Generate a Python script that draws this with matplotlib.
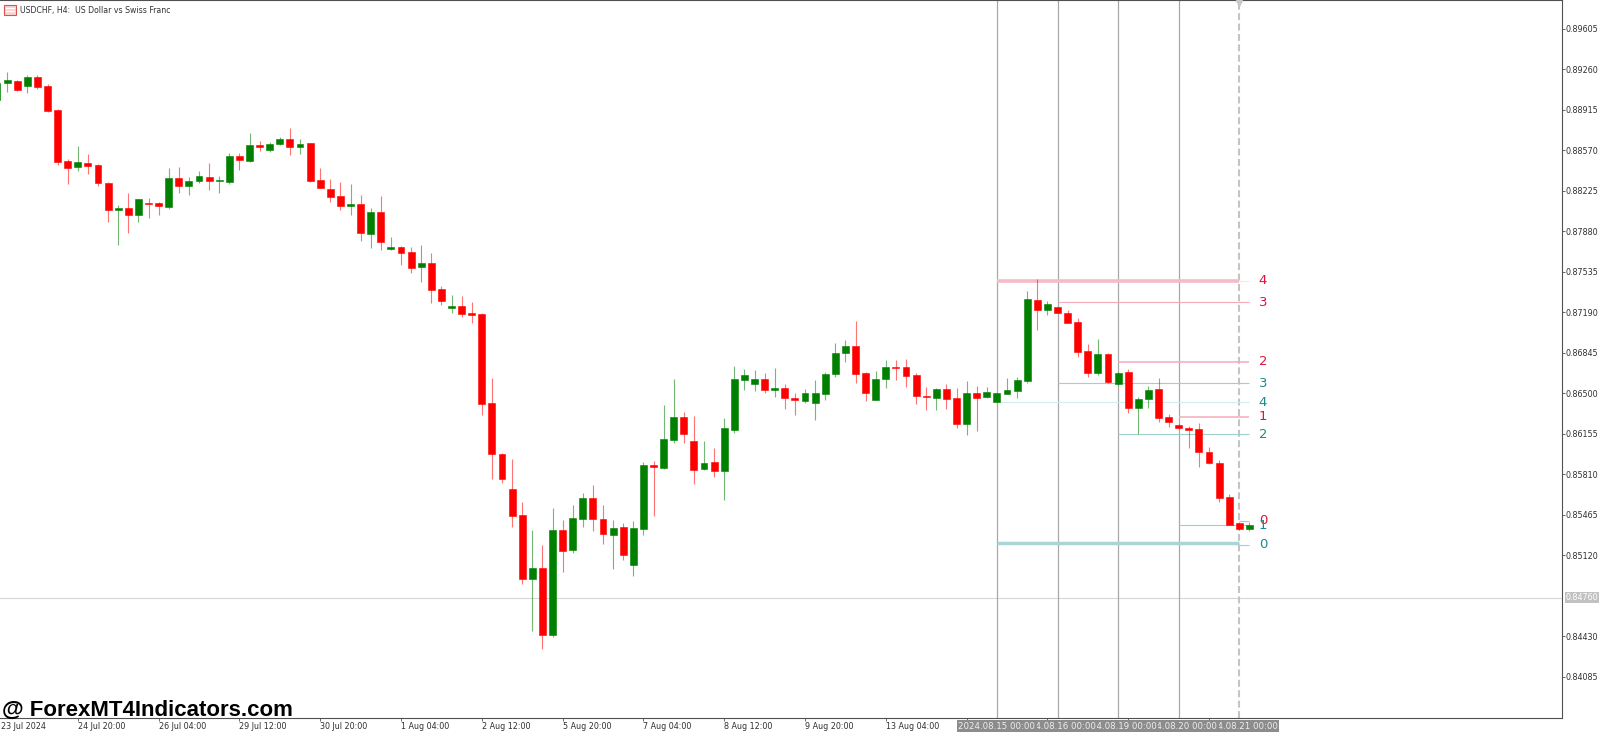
import matplotlib
matplotlib.use("Agg")
import matplotlib.pyplot as plt
import matplotlib.transforms as mtransforms
from matplotlib.patches import Rectangle
import numpy as np

plt.rcParams['font.family'] = 'DejaVu Sans'
plt.rcParams['lines.scale_dashes'] = False

# ===== Data (USDCHF H4) =====
opens = [0.89000, 0.89145, 0.89162, 0.89122, 0.89193, 0.89119, 0.88915, 0.88478, 0.88426, 0.88463,
         0.88449, 0.88296, 0.88066, 0.88080, 0.88018, 0.88125, 0.88120, 0.88091, 0.88338, 0.88270,
         0.88307, 0.88344, 0.88307, 0.88304, 0.88523, 0.88478, 0.88617, 0.88574, 0.88628, 0.88670,
         0.88602, 0.88631, 0.88316, 0.88242, 0.88178, 0.88100, 0.88114, 0.87859, 0.88049, 0.87733,
         0.87748, 0.87705, 0.87575, 0.87612, 0.87387, 0.87232, 0.87245, 0.87185, 0.87174, 0.86416,
         0.85984, 0.85686, 0.85462, 0.84917, 0.85013, 0.84442, 0.85340, 0.85166, 0.85433, 0.85607,
         0.85430, 0.85294, 0.85362, 0.85041, 0.85348, 0.85888, 0.85868, 0.86104, 0.86302, 0.86093,
         0.85854, 0.85919, 0.85837, 0.86189, 0.86615, 0.86581, 0.86626, 0.86530, 0.86544, 0.86464,
         0.86438, 0.86416, 0.86496, 0.86666, 0.86843, 0.86905, 0.86674, 0.86447, 0.86621, 0.86723,
         0.86726, 0.86658, 0.86476, 0.86464, 0.86538, 0.86459, 0.86237, 0.86504, 0.86467, 0.86430,
         0.86496, 0.86524, 0.86609, 0.87296, 0.87211, 0.87237, 0.87188, 0.87109, 0.86859, 0.86674,
         0.86839, 0.86578, 0.86683, 0.86379, 0.86453, 0.86538, 0.86297, 0.86231, 0.86203, 0.86195,
         0.86001, 0.85911, 0.85616, 0.85399, 0.85343]
highs = [0.89188, 0.89241, 0.89171, 0.89210, 0.89210, 0.89136, 0.88926, 0.88500, 0.88608, 0.88540,
         0.88452, 0.88299, 0.88103, 0.88210, 0.88160, 0.88162, 0.88134, 0.88418, 0.88432, 0.88342,
         0.88393, 0.88461, 0.88355, 0.88546, 0.88546, 0.88716, 0.88648, 0.88640, 0.88687, 0.88762,
         0.88670, 0.88634, 0.88418, 0.88325, 0.88299, 0.88284, 0.88191, 0.88077, 0.88182, 0.87837,
         0.87756, 0.87748, 0.87767, 0.87697, 0.87418, 0.87339, 0.87330, 0.87275, 0.87183, 0.86635,
         0.85993, 0.85944, 0.85576, 0.85337, 0.85206, 0.85527, 0.85422, 0.85550, 0.85650, 0.85718,
         0.85547, 0.85422, 0.85394, 0.85416, 0.85919, 0.85925, 0.86404, 0.86621, 0.86345, 0.86308,
         0.86098, 0.86033, 0.86289, 0.86736, 0.86709, 0.86698, 0.86674, 0.86717, 0.86578, 0.86501,
         0.86541, 0.86615, 0.86686, 0.86933, 0.86956, 0.87115, 0.86680, 0.86692, 0.86785, 0.86785,
         0.86794, 0.86675, 0.86553, 0.86544, 0.86581, 0.86544, 0.86602, 0.86564, 0.86558, 0.86504,
         0.86629, 0.86643, 0.87373, 0.87475, 0.87290, 0.87240, 0.87211, 0.87140, 0.86919, 0.86962,
         0.86842, 0.86686, 0.86711, 0.86473, 0.86561, 0.86632, 0.86325, 0.86240, 0.86223, 0.86251,
         0.86047, 0.85933, 0.85644, 0.85408, 0.85408]
lows = [0.88983, 0.89071, 0.89077, 0.89062, 0.89097, 0.88898, 0.88449, 0.88288, 0.88398, 0.88372,
        0.88267, 0.87958, 0.87765, 0.87865, 0.87961, 0.87998, 0.88023, 0.88069, 0.88205, 0.88191,
        0.88293, 0.88233, 0.88205, 0.88282, 0.88404, 0.88469, 0.88568, 0.88560, 0.88617, 0.88532,
        0.88540, 0.88304, 0.88248, 0.88131, 0.88063, 0.88020, 0.87803, 0.87739, 0.87722, 0.87718,
        0.87592, 0.87529, 0.87450, 0.87271, 0.87254, 0.87185, 0.87152, 0.87101, 0.86316, 0.85769,
        0.85740, 0.85360, 0.84874, 0.84474, 0.84321, 0.84422, 0.84975, 0.85138, 0.85365, 0.85331,
        0.85218, 0.85002, 0.85081, 0.84948, 0.85294, 0.85456, 0.85859, 0.86081, 0.86074, 0.85725,
        0.85848, 0.85791, 0.85593, 0.86161, 0.86530, 0.86524, 0.86502, 0.86473, 0.86368, 0.86314,
        0.86421, 0.86277, 0.86444, 0.86643, 0.86771, 0.86592, 0.86438, 0.86444, 0.86549, 0.86615,
        0.86558, 0.86410, 0.86359, 0.86359, 0.86368, 0.86208, 0.86146, 0.86183, 0.86464, 0.86424,
        0.86493, 0.86459, 0.86587, 0.87041, 0.87168, 0.87183, 0.87098, 0.86808, 0.86643, 0.86655,
        0.86587, 0.86572, 0.86331, 0.86152, 0.86374, 0.86260, 0.86217, 0.86197, 0.86038, 0.85876,
        0.85896, 0.85578, 0.85377, 0.85337, 0.85326]
closes = [0.89145, 0.89168, 0.89085, 0.89193, 0.89114, 0.88909, 0.88472, 0.88421, 0.88472, 0.88440,
          0.88293, 0.88066, 0.88080, 0.88018, 0.88157, 0.88114, 0.88100, 0.88338, 0.88265, 0.88310,
          0.88353, 0.88307, 0.88316, 0.88523, 0.88486, 0.88617, 0.88602, 0.88628, 0.88670, 0.88602,
          0.88623, 0.88310, 0.88253, 0.88174, 0.88097, 0.88114, 0.87863, 0.88049, 0.87793, 0.87750,
          0.87699, 0.87571, 0.87612, 0.87381, 0.87288, 0.87245, 0.87180, 0.87168, 0.86413, 0.85984,
          0.85774, 0.85459, 0.84917, 0.85013, 0.84442, 0.85340, 0.85160, 0.85436, 0.85607, 0.85428,
          0.85300, 0.85356, 0.85126, 0.85351, 0.85888, 0.85871, 0.86110, 0.86302, 0.86152, 0.85848,
          0.85911, 0.85837, 0.86206, 0.86621, 0.86658, 0.86626, 0.86530, 0.86544, 0.86459, 0.86442,
          0.86507, 0.86501, 0.86669, 0.86847, 0.86905, 0.86666, 0.86502, 0.86623, 0.86726, 0.86717,
          0.86651, 0.86476, 0.86470, 0.86538, 0.86453, 0.86240, 0.86504, 0.86464, 0.86510, 0.86501,
          0.86530, 0.86615, 0.87302, 0.87211, 0.87260, 0.87185, 0.87103, 0.86856, 0.86674, 0.86839,
          0.86598, 0.86677, 0.86379, 0.86453, 0.86532, 0.86294, 0.86260, 0.86203, 0.86189, 0.85999,
          0.85905, 0.85612, 0.85377, 0.85343, 0.85377]

# time axis labels (bar index -> text)
label_bars = [8, 16, 24, 32, 40, 48, 56, 64, 72, 80, 88]
label_texts = ["24 Jul 20:00", "26 Jul 04:00", "29 Jul 12:00", "30 Jul 20:00", "1 Aug 04:00",
               "2 Aug 12:00", "5 Aug 20:00", "7 Aug 04:00", "8 Aug 12:00", "9 Aug 20:00", "13 Aug 04:00"]
first_label = "23 Jul 2024"
hidden_tick_bars = [96, 104, 112, 120]

# day separators
sep_bars = [99, 105, 111, 117]
sep_texts = ["2024.08.15 00:00", "2024.08.16 00:00", "2024.08.19 00:00", "2024.08.20 00:00"]
current_bar = 123
current_text = "2024.08.21 00:00"

# price axis
price_ticks = [0.89605, 0.89260, 0.88915, 0.88570, 0.88225, 0.87880, 0.87535, 0.87190,
               0.86845, 0.86500, 0.86155, 0.85810, 0.85465, 0.85120, 0.84430, 0.84085]
price_line = 0.84760

# levels
pink_levels = [0.85416, 0.86302, 0.86768, 0.87279, 0.87460]
pink_starts = [123, 117, 111, 105, 99]
teal_levels = [0.85209, 0.85377, 0.86152, 0.86587, 0.86425]
teal_starts = [123, 117, 111, 105, 99]
level_names = ["0", "1", "2", "3", "4"]
pink_band = 0.87460
teal_band = 0.85224
level_end = 124

UP = '#008000'
DOWN = '#FF0000'
PINK_TXT = '#E0143C'
TEAL_TXT = '#1C8A8A'

W, H = 1600, 732
fig = plt.figure(figsize=(W / 100, H / 100), dpi=100)
ax = fig.add_axes([0, 14 / H, 1562 / W, 718 / H])

px = 10.1  # pixels per bar
ax.set_xlim(3 / px, 1565 / px)
ax.set_ylim(0.83735, 0.89852)

o = np.array(opens)
c = np.array(closes)
x = np.arange(len(o))
up = c >= o
cols = np.where(up, UP, DOWN)

# wicks
ax.vlines(x, lows, highs, colors=cols, linewidth=0.8, alpha=0.55, zorder=3)
# bodies
bottom = np.minimum(o, c)
height = np.maximum(np.abs(c - o), 0.00008)
ax.bar(x, height, bottom=bottom, width=0.68, color=cols, edgecolor=cols,
       linewidth=0.4, zorder=4)

# day separators
for b in sep_bars:
    ax.axvline(b, color='#a8a8a8', linewidth=0.9, zorder=2)
ax.axvline(current_bar, color='#c4c4c4', linewidth=1.5, dashes=(5, 2.5), zorder=2)
ax.plot([current_bar], [0.89830], marker='v', color='#c8c8c8', markersize=5,
        clip_on=False, zorder=6)

# price line
ax.axhline(price_line, color='#d6d6d6', linewidth=0.8, zorder=1)

# level bands
ax.hlines(pink_band, 99, current_bar, colors='#F5BCC8', linewidth=2.6, zorder=2)
ax.hlines(pink_band, current_bar, level_end, colors='#FBE3E8', linewidth=0.8, zorder=2)
ax.hlines(teal_band, 99, current_bar, colors='#A8D6D6', linewidth=2.5, zorder=2)

# level lines + labels
lab_x = 1266 / px
for lv, st, nm in zip(pink_levels, pink_starts, level_names):
    if nm != "4":
        lw = 1.1 if nm in ("1", "2") else 0.8
        ax.hlines(lv, st, level_end, colors='#F4AABB', linewidth=lw, zorder=2)
    ax.text(lab_x, lv, nm, color=PINK_TXT, fontsize=9.5, ha='center', va='center', zorder=7)
for lv, st, nm in zip(teal_levels, teal_starts, level_names):
    colr = '#D4ECEC' if nm == "4" else '#9FD0D0'
    ax.hlines(lv, st, level_end, colors=colr, linewidth=0.8, zorder=2)
    ax.text(lab_x, lv, nm, color=TEAL_TXT, fontsize=9.5, ha='center', va='center', zorder=7)

# axes styling
for s in ['top', 'right', 'bottom']:
    ax.spines[s].set_color('#505050')
    ax.spines[s].set_linewidth(0.8)
ax.spines['left'].set_visible(False)
ax.set_facecolor('white')

ax.yaxis.tick_right()
ax.set_yticks(price_ticks)
ax.set_yticklabels([f"{p:.5f}" for p in price_ticks])
ax.tick_params(axis='y', direction='out', length=2.2, width=0.6, pad=0.5,
               labelsize=5.8, colors='#505050', labelcolor='#303030')

tick_bars = label_bars + hidden_tick_bars
ax.set_xticks(tick_bars)
ax.set_xticklabels(label_texts + [""] * len(hidden_tick_bars))
ax.tick_params(axis='x', direction='out', length=2.5, width=0.6, pad=0.6,
               labelsize=5.8, colors='#505050', labelcolor='#303030')
for lbl in ax.get_xticklabels():
    lbl.set_horizontalalignment('left')

trans = mtransforms.blended_transform_factory(ax.transData, ax.transAxes)
ax.annotate(first_label, xy=(0, 0), xycoords='axes fraction', xytext=(0.5, -3.0),
            textcoords='offset points', ha='left', va='top', fontsize=5.8,
            color='#303030', annotation_clip=False)

# date boxes for separators (first drawn on top, later ones hidden beneath)
all_sep = sep_bars + [current_bar]
all_txt = sep_texts + [current_text]
for i, (b, t) in enumerate(zip(all_sep, all_txt)):
    ax.annotate(t, xy=(b, 0), xycoords=trans, xytext=(0, -6.0), textcoords='offset points',
                ha='center', va='center', fontsize=6.2, color='#eeeeee',
                bbox=dict(boxstyle='square,pad=0.18', facecolor='#8c8c8c', edgecolor='none'),
                annotation_clip=False, zorder=20 - i)

# price line label
ptrans = mtransforms.blended_transform_factory(ax.transAxes, ax.transData)
ax.annotate(f"{price_line:.5f}", xy=(1, price_line), xycoords=ptrans, xytext=(2.5, 0),
            textcoords='offset points', ha='left', va='center', fontsize=5.8, color='white',
            bbox=dict(boxstyle='square,pad=0.12', facecolor='#c2c2c2', edgecolor='none'),
            annotation_clip=False)

# title with icon
icon = Rectangle((4 / W, 1 - 15 / H), 12 / W, 10 / H, transform=fig.transFigure,
                 facecolor='#f6d5d2', edgecolor='#d9534f', linewidth=0.8)
fig.patches.append(icon)
for yy in (8, 11):
    fig.add_artist(plt.Line2D([6 / W, 14 / W], [1 - yy / H, 1 - yy / H],
                              transform=fig.transFigure, color='#ffffff', linewidth=0.8))
fig.text(20 / W, 1 - 10.5 / H, "USDCHF, H4:  US Dollar vs Swiss Franc", fontsize=5.6,
         color='#303030', ha='left', va='center')

# watermark
fig.text(2 / W, (H - 716) / H, "@ ForexMT4Indicators.com", fontsize=16, fontweight='bold',
         family='Liberation Sans', color='black', ha='left', va='baseline', zorder=30)

fig.savefig("out.png", dpi=100, facecolor='white')
